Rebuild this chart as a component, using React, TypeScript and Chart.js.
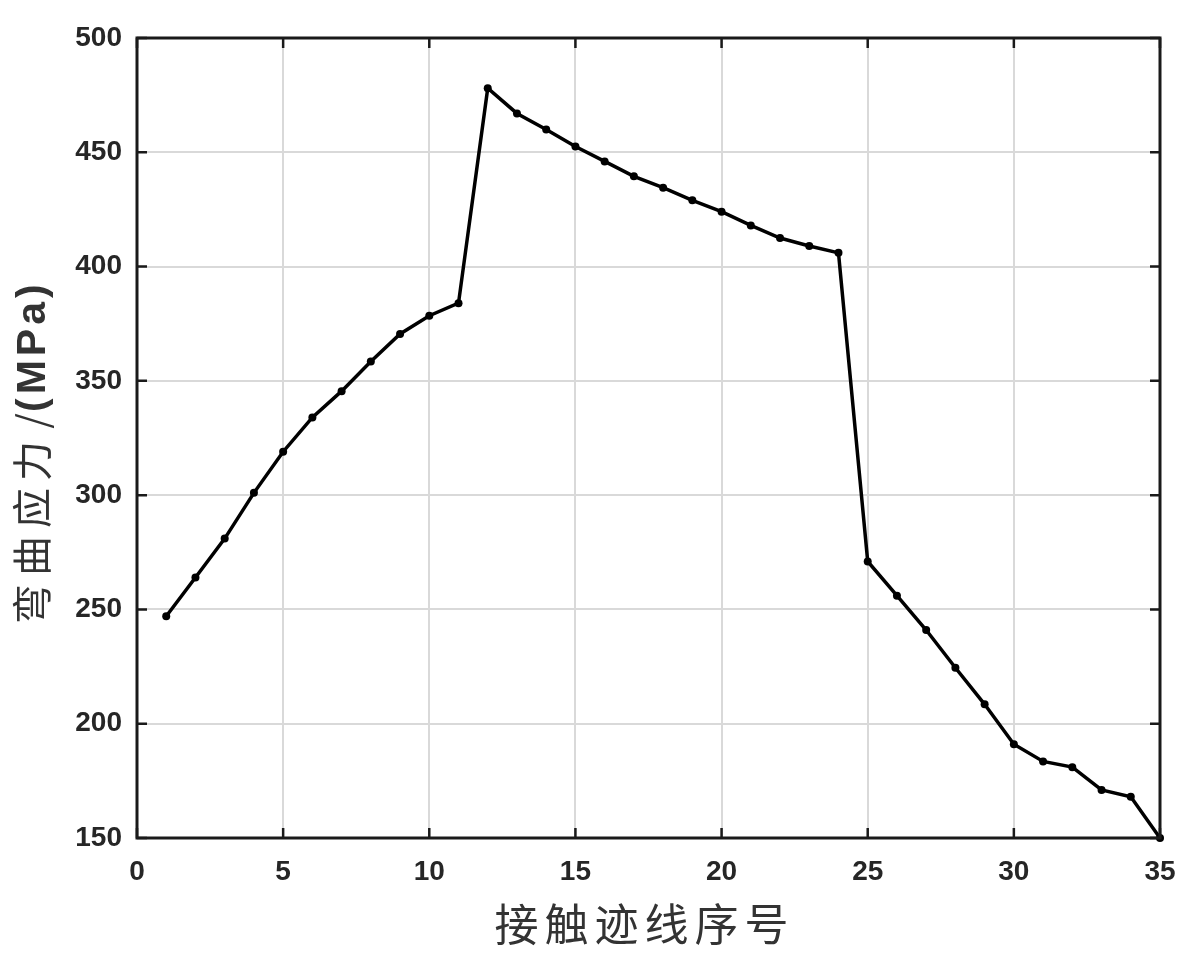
import React, { useEffect, useRef } from 'react';
import { Chart, registerables } from 'chart.js';

Chart.register(...registerables);

const contactTraceIndex = [
  1, 2, 3, 4, 5, 6, 7, 8, 9, 10, 11, 12, 13, 14, 15, 16, 17, 18,
  19, 20, 21, 22, 23, 24, 25, 26, 27, 28, 29, 30, 31, 32, 33, 34, 35,
];
const bendingStress = [
  247, 264, 281, 301, 319, 334, 345.5, 358.5, 370.5, 378.5, 384, 478, 467, 460, 452.5, 446, 439.5, 434.5,
  429, 424, 418, 412.5, 409, 406, 271, 256, 241, 224.5, 208.5, 191, 183.5, 181, 171, 168, 150,
];
const xTicks = [0, 5, 10, 15, 20, 25, 30, 35];
const yTicks = [150, 200, 250, 300, 350, 400, 450, 500];
const xTitle = '接触迹线序号';
const yTitleCn = ['弯', '曲', '应', '力', '/'];
const yTitleUnit = '(MPa)';

const TEXT = '#262626';

const framePlugin = {
  id: 'matlabFrame',
  afterDraw(chart: any) {
    const { ctx, chartArea: a, scales } = chart;
    const xs = scales.x;
    const ys = scales.y;
    ctx.save();
    ctx.strokeStyle = '#1a1a1a';
    ctx.lineWidth = 2.5;
    const tl = 10;
    ctx.beginPath();
    xTicks.forEach((v) => {
      const px = xs.getPixelForValue(v);
      ctx.moveTo(px, a.bottom);
      ctx.lineTo(px, a.bottom - tl);
      ctx.moveTo(px, a.top);
      ctx.lineTo(px, a.top + tl);
    });
    yTicks.forEach((v) => {
      const py = ys.getPixelForValue(v);
      ctx.moveTo(a.left, py);
      ctx.lineTo(a.left + tl, py);
      ctx.moveTo(a.right, py);
      ctx.lineTo(a.right - tl, py);
    });
    ctx.stroke();
    ctx.lineWidth = 3;
    ctx.strokeRect(a.left, a.top, a.right - a.left, a.bottom - a.top);

    // x title
    ctx.fillStyle = '#333333';
    ctx.font = '44px "Noto Sans CJK SC"';
    ctx.textAlign = 'center';
    ctx.textBaseline = 'middle';
    const chars = Array.from(xTitle);
    const adv = 50;
    const cx = (a.left + a.right) / 2 - 7;
    const start = cx - ((chars.length - 1) * adv) / 2;
    chars.forEach((c, i) => ctx.fillText(c, start + i * adv, 924));

    // y title
    ctx.translate(32, 0);
    ctx.rotate(-Math.PI / 2);
    ctx.font = '40px "Noto Sans CJK SC"';
    const yPos = [604, 556, 508, 461, 421];
    yTitleCn.forEach((c, i) => ctx.fillText(c, -yPos[i], 0));
    ctx.font = 'bold 41px "Liberation Sans", Arial, sans-serif';
    ctx.textAlign = 'left';
    (ctx as any).letterSpacing = '4px';
    ctx.fillText(yTitleUnit, -412, 2);
    ctx.restore();
  },
};

export default function App() {
  const ref = useRef<HTMLCanvasElement | null>(null);

  useEffect(() => {
    document.body.style.margin = '0';
    const canvas = ref.current;
    if (!canvas) return;
    const points = contactTraceIndex.map((x, i) => ({ x, y: bendingStress[i] }));
    const tickFont = { family: '"Liberation Sans", Arial, sans-serif', size: 28, weight: 'bold' as const };
    const chart = new Chart(canvas, {
      type: 'scatter',
      data: {
        datasets: [
          {
            data: points,
            showLine: true,
            borderColor: '#000000',
            borderWidth: 3.5,
            pointRadius: 4,
            pointBackgroundColor: '#000000',
            pointBorderWidth: 0,
            pointHoverRadius: 4,
            clip: false as any,
          },
        ],
      },
      options: {
        responsive: false,
        animation: false,
        layout: { padding: { top: 38, right: 33, left: 0, bottom: 0 } },
        plugins: { legend: { display: false }, tooltip: { enabled: false } },
        scales: {
          x: {
            type: 'linear',
            min: 0,
            max: 35,
            afterBuildTicks: (scale: any) => {
              scale.ticks = xTicks.map((v) => ({ value: v }));
            },
            afterFit: (scale: any) => {
              scale.height = 117;
            },
            grid: { color: '#d9d9d9', lineWidth: 2, drawTicks: false },
            border: { display: false },
            ticks: { font: tickFont, color: TEXT, padding: 17, maxRotation: 0 },
          },
          y: {
            type: 'linear',
            min: 150,
            max: 500,
            afterBuildTicks: (scale: any) => {
              scale.ticks = yTicks.map((v) => ({ value: v }));
            },
            afterFit: (scale: any) => {
              scale.width = 137;
            },
            grid: { color: '#d9d9d9', lineWidth: 2, drawTicks: false },
            border: { display: false },
            ticks: { font: tickFont, color: TEXT, padding: 15 },
          },
        },
      },
      plugins: [framePlugin],
    });
    return () => chart.destroy();
  }, []);

  return (
    <div style={{ width: 1193, height: 955, background: '#ffffff' }}>
      <canvas ref={ref} width={1193} height={955} />
    </div>
  );
}
